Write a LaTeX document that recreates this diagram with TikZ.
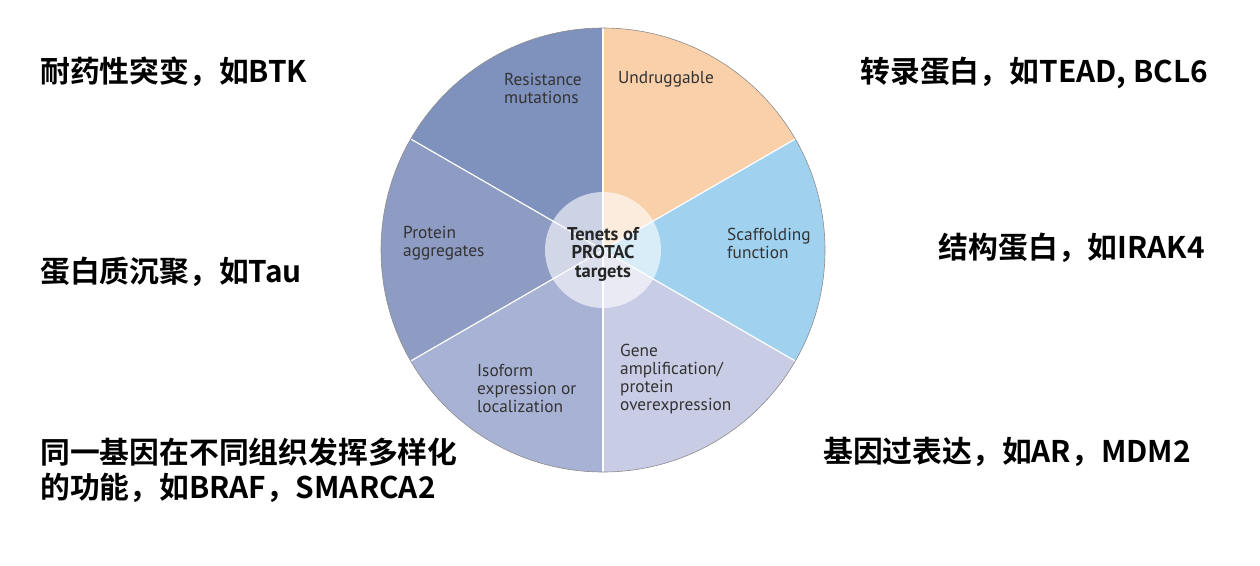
\documentclass[tikz,border=0pt]{standalone}
\usepackage{fontspec}
\setmainfont{PT Sans}
\newfontfamily\cjk{Noto Sans CJK SC}[BoldFont={Noto Sans CJK SC Bold}]
\usetikzlibrary{calc}
\definecolor{cRes}{HTML}{7F91BD}
\definecolor{cAgg}{HTML}{8E9CC4}
\definecolor{cIso}{HTML}{A8B2D5}
\definecolor{cGene}{HTML}{C8CCE4}
\definecolor{cScaf}{HTML}{A0D2F0}
\definecolor{cUnd}{HTML}{F9D0AA}
\tikzset{
  cnlabel/.style={font=\cjk\bfseries\fontsize{29.8}{36}\selectfont, inner sep=0pt, anchor=west, align=left},
  pielabel/.style={font=\fontsize{17.3}{18}\selectfont, text=black!80, inner sep=0pt, anchor=west, align=left},
  divider/.style={white, line width=1.2pt},
}
\begin{document}
\begin{tikzpicture}[x=1pt,y=-1pt]
\useasboundingbox (0,0) rectangle (1260,565);
\coordinate (c) at (603,250);
\def\R{222}
\fill[cUnd] (c) -- ($(c)+(-30:\R)$) arc[start angle=-30, end angle=-90, radius=\R] -- cycle;
\fill[cRes] (c) -- ($(c)+(-90:\R)$) arc[start angle=-90, end angle=-150, radius=\R] -- cycle;
\fill[cAgg] (c) -- ($(c)+(-150:\R)$) arc[start angle=-150, end angle=-210, radius=\R] -- cycle;
\fill[cIso] (c) -- ($(c)+(-210:\R)$) arc[start angle=-210, end angle=-270, radius=\R] -- cycle;
\fill[cGene] (c) -- ($(c)+(-270:\R)$) arc[start angle=-270, end angle=-330, radius=\R] -- cycle;
\fill[cScaf] (c) -- ($(c)+(-330:\R)$) arc[start angle=-330, end angle=-390, radius=\R] -- cycle;
\foreach \a in {-30,-90,-150,-210,-270,-330}
  \draw[divider] (c) -- ($(c)+(\a:\R)$);
\draw[black!45, line width=0.6pt] (c) circle[radius=\R];
\node[circle, fill=white, fill opacity=0.6, minimum size=116pt, inner sep=0pt] (hub) at (c) {};
\node[font=\bfseries\fontsize{18.5}{18.5}\selectfont, text=black!85, align=center, inner sep=0pt] (hubtext) at (603,254)
      {Tenets of\\PROTAC\\targets};
% pie labels
\node[pielabel] (und) at (618,79) {Undruggable};
\node[pielabel] (res) at (504,88) {Resistance\\mutations};
\node[pielabel] (agg) at (403,243) {Protein\\aggregates};
\node[pielabel] (scaf) at (727,243) {Scaffolding\\function};
\node[pielabel] (iso) at (477,388) {Isoform\\expression or\\localization};
\node[pielabel] (gene) at (620,379) {Gene\\amplification/\\protein\\overexpression};
% Chinese annotations
\node[cnlabel] (t1) at (40,72) {耐药性突变，如BTK};
\node[cnlabel, anchor=east] (t2) at (1208,73) {转录蛋白，如TEAD, BCL6};
\node[cnlabel, anchor=east] (t3) at (1205,248) {结构蛋白，如IRAK4};
\node[cnlabel] (t4) at (40,272) {蛋白质沉聚，如Tau};
\node[cnlabel] (t5) at (40,452) {同一基因在不同组织发挥多样化};
\node[cnlabel] (t6) at (40,488) {的功能，如BRAF，SMARCA2};
\node[cnlabel] (t7) at (823,452) {基因过表达，如AR，MDM2};
\end{tikzpicture}
\end{document}
